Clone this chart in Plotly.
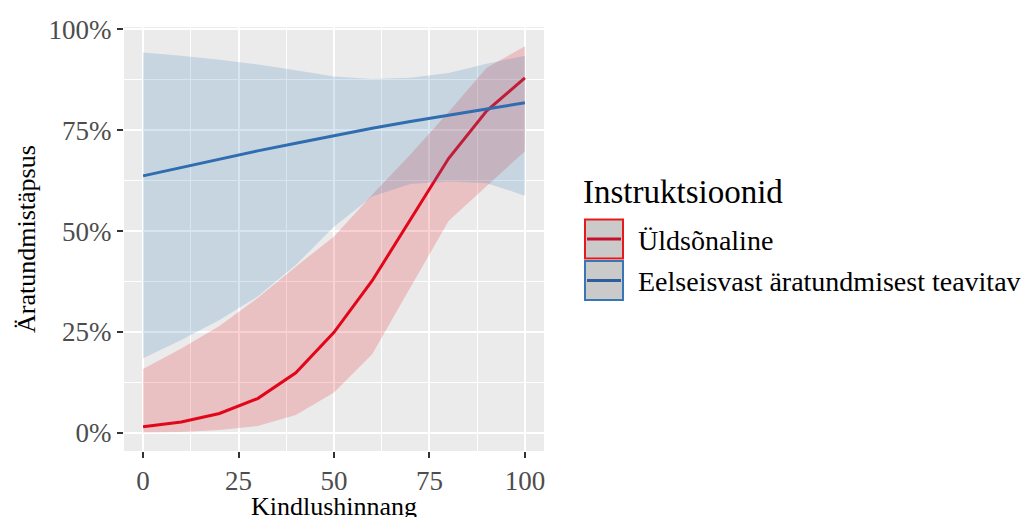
import plotly.graph_objects as go

# ---- data ----
kindlus = [0, 10, 20, 30, 40, 50, 60, 70, 80, 90, 100]

yld_fit = [0.015, 0.027, 0.048, 0.085, 0.149, 0.249, 0.377, 0.530, 0.680, 0.798, 0.880]
yld_low = [0.001, 0.002, 0.007, 0.017, 0.044, 0.100, 0.195, 0.360, 0.525, 0.612, 0.698]
yld_up = [0.158, 0.209, 0.265, 0.334, 0.412, 0.487, 0.590, 0.690, 0.795, 0.905, 0.958]

eel_fit = [0.637, 0.658, 0.679, 0.699, 0.718, 0.737, 0.755, 0.772, 0.788, 0.803, 0.818]
eel_low = [0.185, 0.230, 0.280, 0.338, 0.416, 0.511, 0.586, 0.617, 0.623, 0.619, 0.588]
eel_up = [0.943, 0.935, 0.925, 0.913, 0.899, 0.883, 0.877, 0.880, 0.892, 0.915, 0.935]

series_names = ["Üldsõnaline", "Eelseisvast äratundmisest teavitav"]
y_tickvals = [0, 0.25, 0.5, 0.75, 1.0]
y_ticktext = ["0%", "25%", "50%", "75%", "100%"]
x_tickvals = [0, 25, 50, 75, 100]
x_ticktext = ["0", "25", "50", "75", "100"]

x_title = "Kindlushinnang"
y_title = "Äratundmistäpsus"
legend_title = "Instruktsioonid"

# ---- styling ----
FONT = "Liberation Serif"
RED_LINE = "#E2061B"
BLUE_LINE = "#2F6CB0"
RED_FILL = "rgba(228,26,28,0.2)"
BLUE_FILL = "rgba(55,126,184,0.2)"

W, H = 1031, 517
ML, MR, MT, MB = 124, 487, 27, 66
PW = W - ML - MR
PH = H - MT - MB


def px(x):
    return (x - ML) / PW


def py(y):
    return (H - MB - y) / PH


fig = go.Figure()


def ribbon(xs, lo, hi, color):
    return go.Scatter(
        x=list(xs) + list(xs)[::-1],
        y=list(hi) + list(lo)[::-1],
        fill="toself", fillcolor=color,
        line=dict(width=0), mode="lines",
        hoverinfo="skip", showlegend=False,
    )


fig.add_trace(ribbon(kindlus, yld_low, yld_up, RED_FILL))
fig.add_trace(go.Scatter(x=kindlus, y=yld_fit, mode="lines",
                         line=dict(color=RED_LINE, width=3),
                         name=series_names[0], showlegend=False))
fig.add_trace(ribbon(kindlus, eel_low, eel_up, BLUE_FILL))
fig.add_trace(go.Scatter(x=kindlus, y=eel_fit, mode="lines",
                         line=dict(color=BLUE_LINE, width=3),
                         name=series_names[1], showlegend=False))

axis_common = dict(
    showgrid=True, gridcolor="white", gridwidth=2,
    zeroline=False, showline=False,
    ticks="outside", ticklen=6, tickwidth=2, tickcolor="#333333",
    tickfont=dict(family=FONT, size=27, color="#4D4D4D"),
)

fig.update_xaxes(range=[-5, 105], tickvals=x_tickvals, ticktext=x_ticktext,
                 minor=dict(dtick=12.5, tick0=0, showgrid=True,
                            gridcolor="white", gridwidth=1, ticks=""),
                 **axis_common)
fig.update_yaxes(range=[-0.045, 1.006], tickvals=y_tickvals, ticktext=y_ticktext,
                 minor=dict(dtick=0.125, tick0=0, showgrid=True,
                            gridcolor="white", gridwidth=1, ticks=""),
                 **axis_common)

annotations = [
    dict(text=x_title, xref="paper", yref="paper", x=0.5, y=py(506),
         xanchor="center", yanchor="middle", showarrow=False,
         font=dict(family=FONT, size=26, color="black")),
    dict(text=y_title, xref="paper", yref="paper", x=px(26), y=0.5,
         xanchor="center", yanchor="middle", showarrow=False, textangle=-90,
         font=dict(family=FONT, size=26, color="black")),
    dict(text=legend_title, xref="paper", yref="paper", x=px(581), y=py(192),
         xanchor="left", yanchor="middle", showarrow=False,
         font=dict(family=FONT, size=33, color="black")),
]

shapes = []
key_colors = [("#E41A1C", "#C8102E"), ("#3A76B6", "#2D5F9A")]
key_tops = [219.5, 261]
label_mid = [240, 281]
for i, name in enumerate(series_names):
    border, inner = key_colors[i]
    top = key_tops[i]
    shapes.append(dict(type="rect", xref="paper", yref="paper",
                       x0=px(585), x1=px(623), y0=py(top + 39), y1=py(top),
                       fillcolor="#CACACA", line=dict(color=border, width=2)))
    shapes.append(dict(type="line", xref="paper", yref="paper",
                       x0=px(587), x1=px(621), y0=py(top + 19.5), y1=py(top + 19.5),
                       line=dict(color=inner, width=3)))
    annotations.append(dict(text=name, xref="paper", yref="paper",
                            x=px(636), y=py(label_mid[i]),
                            xanchor="left", yanchor="middle", showarrow=False,
                            font=dict(family=FONT, size=28, color="black")))

fig.update_layout(
    width=W, height=H,
    margin=dict(l=ML, r=MR, t=MT, b=MB, pad=0),
    plot_bgcolor="#EBEBEB", paper_bgcolor="white",
    showlegend=False,
    annotations=annotations, shapes=shapes,
    font=dict(family=FONT),
)

fig.write_html("out.html")
